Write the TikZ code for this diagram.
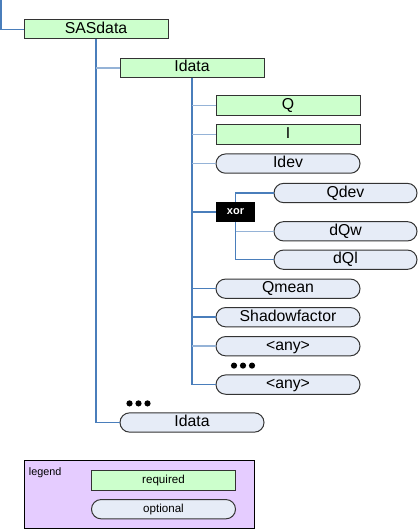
\documentclass[tikz,border=0pt]{standalone}
\usepackage{fontspec}
\setmainfont{Liberation Sans}
\definecolor{reqfill}{HTML}{CCFFCC}
\definecolor{optfill}{HTML}{E6ECF7}
\definecolor{legfill}{HTML}{E5CCFF}
\definecolor{edgecol}{HTML}{333333}
\definecolor{linkdark}{HTML}{4A7EBB}
\definecolor{linklight}{HTML}{95B3D7}
\begin{document}
\begin{tikzpicture}[x=1pt,y=-1pt,
  box/.style={draw=edgecol, line width=1pt, minimum width=144pt, minimum height=19.3pt,
    inner sep=0pt, text height=11.5pt, text depth=3.5pt,
    font=\fontsize{15.8}{16}\selectfont, anchor=center},
  req/.style={box, fill=reqfill},
  opt/.style={box, fill=optfill, rounded corners=9.6pt},
  smallbox/.style={text height=9.5pt, text depth=2.5pt, font=\fontsize{11.6}{12}\selectfont},
  xorbox/.style={fill=black, text=white, minimum width=39pt, minimum height=19.7pt, inner sep=0pt,
    font=\bfseries\fontsize{11}{12}\selectfont},
  dk/.style={draw=linkdark, line width=1.5pt},
  lt/.style={draw=linklight, line width=1.5pt},
  dotmark/.style={fill=black}
]
\useasboundingbox (0,0) rectangle (418,529);

% nodes
\node[req] (sas) at (96,29.3) {SASdata};
\node[req] (idata) at (192,67.8) {Idata};
\node[req] (q) at (288,105.6) {Q};
\node[req] (i) at (288,134.6) {I};
\node[opt] (idev) at (288,163.6) {Idev};
\node[xorbox] (xor) at (235.5,211.9) {xor};
\node[opt, minimum width=143pt] (qdev) at (345.5,193) {Qdev};
\node[opt, minimum width=143pt] (dqw) at (345.5,231.3) {dQw};
\node[opt, minimum width=143pt] (dql) at (345.5,259.7) {dQl};
\node[opt] (qmean) at (288,288.7) {Qmean};
\node[opt] (shadow) at (288,317.2) {Shadowfactor};
\node[opt] (anya) at (288,346.2) {<any>};
\node[opt] (anyb) at (288,384.6) {<any>};
\node[opt] (idata2) at (192,422.5) {Idata};

% free ends / trunk positions
\coordinate (top) at (1,0);
\coordinate (t1) at (96,0);
\coordinate (t2) at (192,0);

% connectors
\draw[dk] (top) |- (sas.west);
\draw[dk] (sas.south -| t1) |- (idata2.west);
\draw[lt] (idata.west -| t1) -- (idata.west);
\draw[dk] (idata.south -| t2) |- (anyb.west);
\draw[lt] (q.west -| t2) -- (q.west);
\draw[lt] (i.west -| t2) -- (i.west);
\draw[lt] (idev.west -| t2) -- (idev.west);
\draw[dk] (xor.west -| t2) -- (xor.west);
\draw[dk] (xor.north) |- (qdev.west);
\draw[dk] (xor.south) |- (dql.west);
\draw[lt] (dqw.west -| xor.south) -- (dqw.west);
\draw[dk] (qmean.west -| t2) -- (qmean.west);
\draw[dk] (shadow.west -| t2) -- (shadow.west);
\draw[lt] (anya.west -| t2) -- (anya.west);

% ellipsis dots
\foreach \x in {234,243,252} \fill[dotmark] (\x,365.6) circle (3.1pt);
\foreach \x in {129.5,138.5,147.5} \fill[dotmark] (\x,403.4) circle (3.1pt);

% legend
\node[draw=black, line width=1pt, fill=legfill, minimum width=230.7pt, minimum height=67.6pt, inner sep=0pt] (legend) at (139.4,494.5) {};
\node[anchor=base west, inner sep=0pt, font=\fontsize{10.8}{12}\selectfont] (legtitle) at (28.7,475.7) {legend};
\node[req, smallbox] (lreq) at (163.5,480.4) {required};
\node[opt, smallbox] (lopt) at (163.5,509.2) {optional};
\end{tikzpicture}
\end{document}
